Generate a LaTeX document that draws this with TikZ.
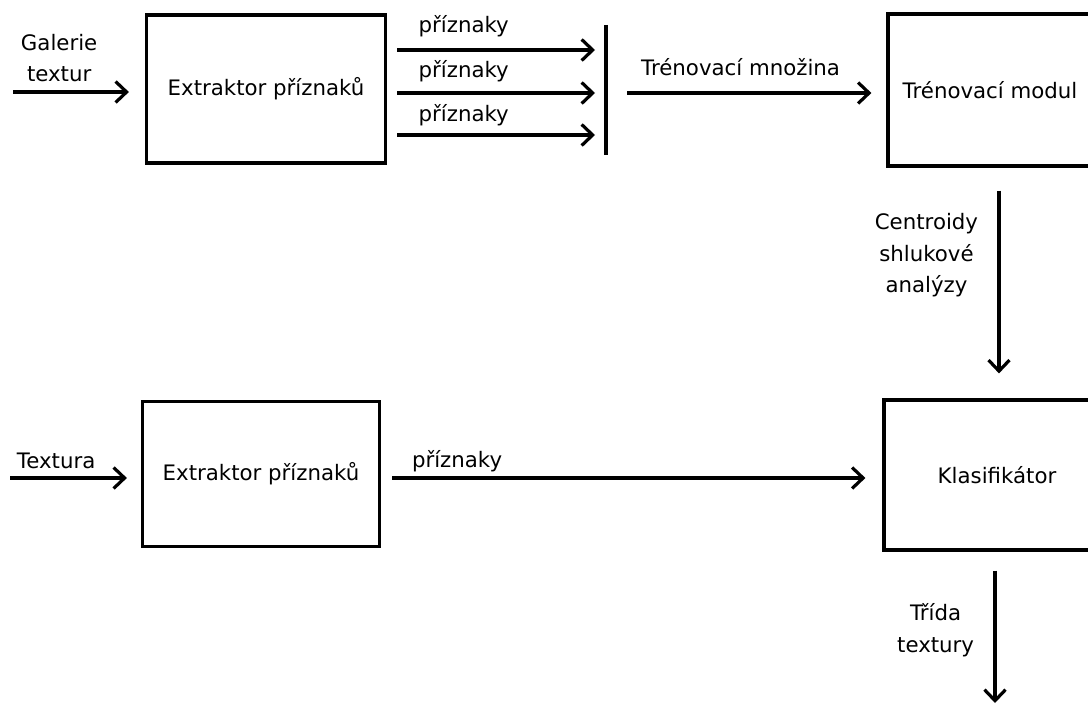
\documentclass[tikz,border=0pt]{standalone}
\usepackage{fontspec}
\setmainfont{DejaVu Sans}
\usepackage{tikz}
\usetikzlibrary{arrows.meta,positioning}
\tikzset{
every node/.style={font=\fontsize{21.3}{31.5}\selectfont,align=center},
block/.style={rectangle,draw,line width=3.2pt,inner sep=0pt},
arr/.style={line width=3.2pt,-{Straight Barb[length=11pt,width=21pt]}},
bar/.style={line width=3.2pt}
}

\begin{document}
\begin{tikzpicture}[x=1pt,y=1pt]
    \path[use as bounding box,clip] (0,0) rectangle (1088,705);

    \node[block,minimum width=239,minimum height=148] (ext1) at (266,616) {Extraktor příznaků};
    \node[block,minimum width=204,minimum height=152] (tren) at (990,615) {Trénovací modul};
    \node[block,minimum width=237,minimum height=145] (ext2) at (261,231) {Extraktor příznaků};
    \node[block,minimum width=226,minimum height=150] (klas) at (997,230) {Klasifikátor};

    \coordinate (gal) at (13,613);
    \coordinate (bartop) at (606,680);
    \coordinate (barbot) at (606,550);
    \coordinate (tex) at (10,227);
    \coordinate (out) at (995,2);

    \draw[arr,shorten >=16pt] (gal) -- (gal -| ext1.west) node[pos=0.35,above=5pt] {Galerie\\textur};
    \foreach \y/\d in {655/8,612/6,570/4}
        \draw[arr,shorten <=10pt,shorten >=11pt] (ext1.east |- 0,\y) -- (bartop |- 0,\y) node[pos=0.35,above=\d pt] {příznaky};
    \draw[bar] (bartop) -- (barbot);
    \draw[arr,shorten <=21pt,shorten >=15pt] (bartop |- 0,612) -- (tren.west |- 0,612) node[pos=0.48,above=12pt] {Trénovací množina};
    \draw[arr,shorten <=23pt,shorten >=25pt] (999,0 |- tren.south) -- (999,0 |- klas.north) node[pos=0.38,left=16pt] {Centroidy\\shlukové\\analýzy};

    \draw[arr,shorten >=14pt] (tex) -- (tex -| ext2.west) node[pos=0,above right=4pt and 2pt] {Textura};
    \draw[arr,shorten <=11pt,shorten >=17pt] (ext2.east |- tex) -- (klas.west |- tex) node[pos=0,above right=1pt and 26pt] {příznaky};
    \draw[arr,shorten <=19pt] (out |- klas.south) -- (out) node[pos=0.52,left=16pt] {Třída\\textury};
\end{tikzpicture}
\end{document}
